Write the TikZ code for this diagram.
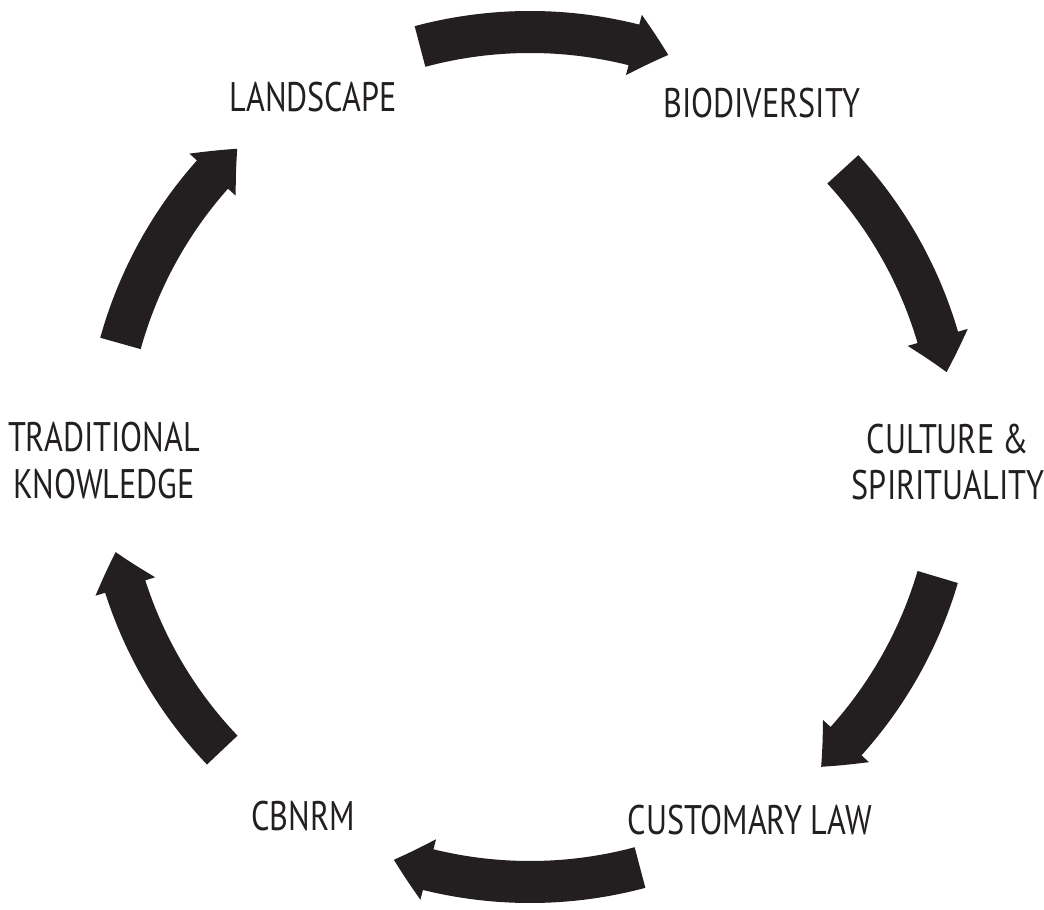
\documentclass[tikz,border=0pt]{standalone}
\usepackage{fontspec}
\setmainfont{PT Sans}[FakeStretch=0.78]
\usepackage{tikz}
\usetikzlibrary{arrows.meta,bending}
\usepackage{xcolor}
\definecolor{cycleblack}{HTML}{231F20}
\tikzstyle{stage} = [text=cycleblack, align=center, inner sep=0pt, font=\fontsize{23.5}{26.7}\selectfont]
\tikzstyle{cyclearrow} = [line width=0.84cm, color=cycleblack, -{Triangle[length=0.72cm, width=1.2cm, bend]}]

\begin{document}
\begin{tikzpicture}
\useasboundingbox (-10.6,-9.04) rectangle (10.28,9.14);

% stages of the cycle
\node[stage] (landscape) at (-4.34,7.2) {LANDSCAPE};
\node[stage] (biodiv) at (4.64,7.08) {BIODIVERSITY};
\node[stage] (culture) at (8.36,-0.1) {CULTURE \&\\SPIRITUALITY};
\node[stage] (custom) at (4.4,-7.26) {CUSTOMARY LAW};
\node[stage] (cbnrm) at (-4.54,-7.18) {CBNRM};
\node[stage] (tradknow) at (-8.52,-0.08) {TRADITIONAL\\KNOWLEDGE};

% arrows round the circle
\draw[cyclearrow] (105:8.5) arc[start angle=105, end angle=71, radius=8.5];
\draw[cyclearrow] (42.6:8.5) arc[start angle=42.6, end angle=11.5, radius=8.5];
\draw[cyclearrow] (-16.4:8.5) arc[start angle=-16.4, end angle=-46.8, radius=8.5];
\draw[cyclearrow] (-75:8.5) arc[start angle=-75, end angle=-108.7, radius=8.5];
\draw[cyclearrow] (223.6:8.5) arc[start angle=223.6, end angle=192.9, radius=8.5];
\draw[cyclearrow] (164.5:8.5) arc[start angle=164.5, end angle=133.5, radius=8.5];
\end{tikzpicture}
\end{document}
